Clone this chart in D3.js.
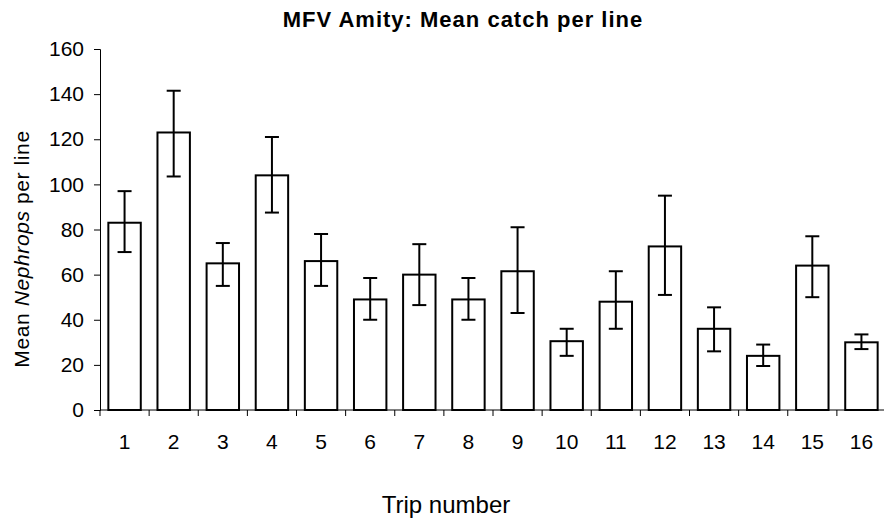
<!DOCTYPE html>
<html>
<head>
<meta charset="utf-8">
<script src="https://cdn.jsdelivr.net/npm/d3@7"></script>
<style>
  body { margin: 0; background: #fff; }
  text { font-family: Arial, "Liberation Sans", sans-serif; fill: #000; }
</style>
</head>
<body>
<div id="chart"></div>
<script>
// trip numbers and values
var trips = ["1","2","3","4","5","6","7","8","9","10","11","12","13","14","15","16"];
var meanCatch = [83, 123, 65, 104, 66, 49, 60, 49, 61.5, 30.5, 48, 72.5, 36, 24, 64, 30];
var errUpper  = [97, 141.5, 74, 121, 78, 58.5, 73.5, 58.5, 81, 36, 61.5, 95, 45.5, 29, 77, 33.5];
var errLower  = [70, 103.5, 55, 87.5, 55, 40, 46.5, 40, 43, 24, 36, 51, 26, 19.5, 50, 27];
var yTicks = [0, 20, 40, 60, 80, 100, 120, 140, 160];

var margin = {top: 49, right: -2, bottom: 112, left: 100},
  width = 884 - margin.left - margin.right,
  height = 522 - margin.top - margin.bottom;

var data = trips.map(function(t, i) {
  return {trip: t, mean: meanCatch[i], hi: errUpper[i], lo: errLower[i]};
});

var svg = d3.select("#chart")
.append("svg")
  .attr("width", 884)
  .attr("height", 522)
.append("g")
  .attr("transform", "translate(" + margin.left + "," + margin.top + ")");

var x = d3.scaleBand()
  .domain(trips)
  .range([0, width])
  .paddingInner(0.34)
  .paddingOuter(0.17);

var y = d3.scaleLinear()
  .domain([0, 160])
  .range([height, 0]);

// y axis
var yAxis = svg.append("g")
  .call(d3.axisLeft(y).tickValues(yTicks).tickSize(6).tickPadding(10));
yAxis.select(".domain").attr("stroke", "#000");
yAxis.selectAll("text").style("font-size", "21px");

// x axis, ticks between categories
var xAxis = svg.append("g")
  .attr("transform", "translate(0," + height + ")")
  .call(d3.axisBottom(x).tickSize(0).tickPadding(24));
xAxis.select(".domain").attr("d", "M0,0H" + width).attr("stroke", "#000");
xAxis.selectAll("text").style("font-size", "21px");

svg.append("g")
  .selectAll("line")
  .data(trips)
  .enter()
  .append("line")
    .attr("x1", function(d) { return x(d) - x.step() * x.paddingInner() / 2; })
    .attr("x2", function(d) { return x(d) - x.step() * x.paddingInner() / 2; })
    .attr("y1", height)
    .attr("y2", height + 6)
    .attr("stroke", "#000");

// bars
svg.selectAll(".bar")
  .data(data)
  .enter()
  .append("rect")
    .attr("class", "bar")
    .attr("x", function(d) { return x(d.trip); })
    .attr("y", function(d) { return y(d.mean); })
    .attr("width", x.bandwidth())
    .attr("height", function(d) { return height - y(d.mean); })
    .attr("fill", "#fff")
    .attr("stroke", "#000")
    .attr("stroke-width", 2);

// error bars
var cap = 7;
var err = svg.selectAll(".err")
  .data(data)
  .enter()
  .append("g")
    .attr("class", "err")
    .attr("stroke", "#000")
    .attr("stroke-width", 2);

err.append("line")
  .attr("x1", function(d) { return x(d.trip) + x.bandwidth() / 2; })
  .attr("x2", function(d) { return x(d.trip) + x.bandwidth() / 2; })
  .attr("y1", function(d) { return y(d.hi); })
  .attr("y2", function(d) { return y(d.lo); });

err.append("line")
  .attr("x1", function(d) { return x(d.trip) + x.bandwidth() / 2 - cap; })
  .attr("x2", function(d) { return x(d.trip) + x.bandwidth() / 2 + cap; })
  .attr("y1", function(d) { return y(d.hi); })
  .attr("y2", function(d) { return y(d.hi); });

err.append("line")
  .attr("x1", function(d) { return x(d.trip) + x.bandwidth() / 2 - cap; })
  .attr("x2", function(d) { return x(d.trip) + x.bandwidth() / 2 + cap; })
  .attr("y1", function(d) { return y(d.lo); })
  .attr("y2", function(d) { return y(d.lo); });

// title and axis labels
svg.append("text")
  .attr("x", 363)
  .attr("y", -22)
  .attr("text-anchor", "middle")
  .style("font-size", "22px")
  .style("font-weight", "bold")
  .style("letter-spacing", "1px")
  .text("MFV Amity: Mean catch per line");

svg.append("text")
  .attr("x", 346)
  .attr("y", height + 103)
  .attr("text-anchor", "middle")
  .style("font-size", "24px")
  .text("Trip number");

var ylab = svg.append("text")
  .attr("transform", "translate(-71,200) rotate(-90)")
  .attr("text-anchor", "middle")
  .style("font-size", "21px")
  .style("letter-spacing", "0.6px");
ylab.append("tspan").text("Mean ");
ylab.append("tspan").style("font-style", "italic").text("Nephrops");
ylab.append("tspan").text("  per line");
</script>
</body>
</html>
